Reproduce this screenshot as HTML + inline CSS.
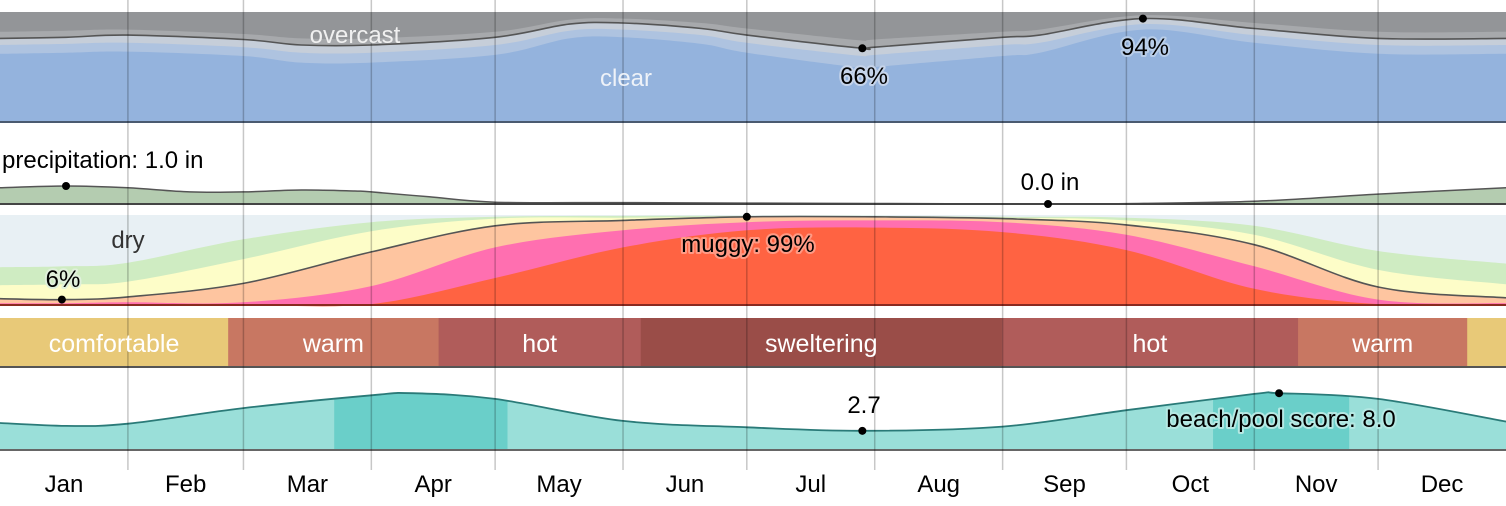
<!DOCTYPE html>
<html><head><meta charset="utf-8"><style>
html,body{margin:0;padding:0;background:#fff;}
svg{display:block;font-family:"Liberation Sans",sans-serif;}
</style></head><body>
<svg id="chart" width="1506" height="506" viewBox="0 0 1506 506" xmlns="http://www.w3.org/2000/svg">
<g id="layers"></g>
<g id="grid"></g>
<g id="labels"></g>
</svg>
<script>
// ---------- data ----------
const months = ["Jan","Feb","Mar","Apr","May","Jun","Jul","Aug","Sep","Oct","Nov","Dec"];
const monthStarts = [0,31,59,90,120,151,181,212,243,273,304,334,365];
// cloud cover (cumulative %, day of year)
const cloudDays = [0,16,31,59,73,90,120,138,151,170,181,209,212,243,252,277,304,334,365];
const cloudClearTop = [62,63,64,60,54,54,61,76,77,71,63,49,50,60,63,84,72,62,62];
const cloudMostlyClearTop = [70,71,72,68,63,63,70,83,84,79,72,60,61,70,72,89,79,70,70];
const cloudLine = [76,77,79,75,70,70,77,89,90,85,79,67,68,77,79,94,85,76,76];
const cloudMostlyCloudyTop = [82,83,84,80,76,76,82,93,94,90,85,74,75,82,84,97,90,82,82];
// precipitation (inches)
const precipDays = [0,16,31,46,59,73,86,90,104,120,151,181,212,243,260,273,304,334,365];
const precipIn = [0.9,1.0,0.9,0.67,0.67,0.78,0.72,0.67,0.4,0.1,0.08,0.05,0.03,0.0,0.01,0.02,0.15,0.55,0.9];
// humidity (cumulative %)
const humDays = [0,16,31,59,90,120,151,181,212,243,273,304,334,365];
const humDry = [42,43,47,73,92,98,99,99,99,98,97,88,60,46];
const humComfortable = [22,23,26,51,82,96,97,98,98,97,94,78,39,23];
const humMuggy = [7,6,9,24,59,88,94,98,98,96,89,67,20,8];
const humOppressive = [2,2,3,3,21,64,83,92,94,92,78,43,6,2];
const humMiserable = [0,0,0,0,1,30,64,83,86,81,61,18,1,0];
// beach score
const beachDays = [0,16,31,59,90,100,120,151,181,209,243,273,304,310,334,365];
const beachScore = [3.8,3.4,3.7,5.9,7.7,8.0,7.2,4.1,3.2,2.7,3.3,5.6,7.9,8.0,7.2,4.0];
const beachBest = [[81,123],[294,327]];
// temperature bands
const tempBands = [["comfortable",0,55.3],["warm",55.3,106.3],["hot",106.3,155.3],["sweltering",155.3,242.8],["hot",242.8,314.6],["warm",314.6,355.6],["comfortable",355.6,365]];
const tempColors = {comfortable:"#e8c978",warm:"#c87762",hot:"#b05c5a",sweltering:"#9a4d48"};

// ---------- scales ----------
const W = 1506;
const x = d => d/365*W;
const yCloud = v => 122 - v*1.1;
const yPrecip = v => 204 - v*18;
const yHum = v => 305 - v*0.9;
const yBeach = v => 450 - v*7.1;

const NS = "http://www.w3.org/2000/svg";
function mk(tag, attrs, parent){ const e=document.createElementNS(NS,tag); for(const k in attrs) e.setAttribute(k,attrs[k]); parent.appendChild(e); return e; }
function smooth(pts){
  let d = "M"+pts[0][0].toFixed(1)+","+pts[0][1].toFixed(1);
  for(let i=0;i<pts.length-1;i++){
    const p0=pts[Math.max(0,i-1)],p1=pts[i],p2=pts[i+1],p3=pts[Math.min(pts.length-1,i+2)];
    const c1x=p1[0]+(p2[0]-p0[0])/6,c1y=p1[1]+(p2[1]-p0[1])/6;
    const c2x=p2[0]-(p3[0]-p1[0])/6,c2y=p2[1]-(p3[1]-p1[1])/6;
    d+=" C"+c1x.toFixed(1)+","+c1y.toFixed(1)+" "+c2x.toFixed(1)+","+c2y.toFixed(1)+" "+p2[0].toFixed(1)+","+p2[1].toFixed(1);
  }
  return d;
}
function pts(days, vals, ys){ return days.map((d,i)=>[x(d), ys(vals[i])]); }
function area(days, vals, ys, base){ return smooth(pts(days,vals,ys))+" L"+W+","+base+" L0,"+base+" Z"; }

const L = document.getElementById("layers");
const G = document.getElementById("grid");
const T = document.getElementById("labels");

// ---------- cloud panel ----------
let e;
e = mk("rect",{x:0,y:12,width:W,height:110,fill:"#939598"},L);


e = mk("path",{d:area(cloudDays,cloudMostlyCloudyTop,yCloud,122),fill:"#a7a9ac"},L);


e = mk("path",{d:area(cloudDays,cloudLine,yCloud,122),fill:"#c6ced9"},L);


e = mk("path",{d:area(cloudDays,cloudMostlyClearTop,yCloud,122),fill:"#aec3e0"},L);


e = mk("path",{d:area(cloudDays,cloudClearTop,yCloud,122),fill:"#94b3dd"},L);


e = mk("path",{d:smooth(pts(cloudDays,cloudLine,yCloud)),fill:"none",stroke:"#555",'stroke-width':1.6},L);


e = mk("rect",{x:0,y:121,width:W,height:2,fill:"#4a5a70"},L);



// ---------- precip panel ----------
e = mk("path",{d:area(precipDays,precipIn,yPrecip,204),fill:"#b4ccb0"},L);


e = mk("path",{d:smooth(pts(precipDays,precipIn,yPrecip)),fill:"none",stroke:"#555",'stroke-width':1.5},L);


e = mk("rect",{x:0,y:203,width:W,height:2,fill:"#444"},L);



// ---------- humidity panel ----------
e = mk("rect",{x:0,y:215,width:W,height:90,fill:"#e8f0f4"},L);


const humLayers = [[humDry,"#cfecc2","humidity-comfortable-area"],[humComfortable,"#fdfdc8","humidity-humid-area"],[humMuggy,"#fec5a0","humidity-muggy-area"],[humOppressive,"#ff6fb0","humidity-oppressive-area"],[humMiserable,"#ff6342","humidity-miserable-area"]];
humLayers.forEach(h=>{
  const p = mk("path",{d:area(humDays,h[0],yHum,305),fill:h[1]},L);
  
  
});
e = mk("path",{d:smooth(pts(humDays,humMuggy,yHum)),fill:"none",stroke:"#555",'stroke-width':1.6},L);


e = mk("rect",{x:0,y:304,width:W,height:2,fill:"#8a2a20"},L);



// ---------- temperature bar ----------
tempBands.forEach(b=>{
  const r = mk("rect",{x:x(b[1]),y:318,width:x(b[2])-x(b[1])+0.5,height:49,fill:tempColors[b[0]]},L);
  
  
  if(b[2]-b[1]>20){
    const t = mk("text",{x:(x(b[1])+x(b[2]))/2,y:352,'text-anchor':'middle','font-size':25,fill:'#fff'},T);
    t.textContent=b[0];
    
    
  }
});
e = mk("rect",{x:0,y:366,width:W,height:2,fill:"#555"},L);



// ---------- beach panel ----------
const clipId="beachClip";
const cp = mk("clipPath",{id:clipId},L);
mk("path",{d:area(beachDays,beachScore,yBeach,450)},cp);
e = mk("path",{d:area(beachDays,beachScore,yBeach,450),fill:"#9adfd9"},L);


beachBest.forEach(r=>{
  const q = mk("rect",{x:x(r[0]),y:370,width:x(r[1])-x(r[0]),height:80,fill:"#6acfc9",'clip-path':'url(#'+clipId+')'},L);
  
  
});
e = mk("path",{d:smooth(pts(beachDays,beachScore,yBeach)),fill:"none",stroke:"#2a7a78",'stroke-width':1.8},L);


e = mk("rect",{x:0,y:449,width:W,height:2,fill:"#666"},L);



// ---------- grid + months ----------
monthStarts.slice(1,12).forEach(d=>{
  const l = mk("line",{x1:x(d),x2:x(d),y1:0,y2:470,stroke:"rgba(0,0,0,0.22)",'stroke-width':1.5},G);
  
  
});
months.forEach((m,i)=>{
  const t = mk("text",{x:(x(monthStarts[i])+x(monthStarts[i+1]))/2,y:492,'text-anchor':'middle','font-size':24,fill:'#000'},T);
  t.textContent=m;
  
  
});

// ---------- annotations ----------
function label(txt,xx,yy,anchor,fill,halo,name){
  const t = mk("text",{x:xx,y:yy,'text-anchor':anchor,'font-size':24,fill:fill},T);
  if(halo){ t.setAttribute('stroke',halo); t.setAttribute('stroke-width',4); t.setAttribute('paint-order','stroke'); t.setAttribute('stroke-linejoin','round'); }
  t.textContent=txt;
  
  
}
function dot(xx,yy,name){
  const c = mk("circle",{cx:xx,cy:yy,r:4,fill:'#000'},T);
  
  
}
label("overcast",355,43,"middle","#f0f0f0",null,"overcast-label");
label("clear",626,86,"middle","#eef2f8",null,"clear-label");
dot(x(209),yCloud(67),"cloud-min-marker");
label("66%",864,84,"middle","#000","#c6d4ea","cloud-min-label");
dot(x(277),yCloud(94),"cloud-max-marker");
label("94%",1145,55,"middle","#000","#b8cde8","cloud-max-label");
dot(x(16),yPrecip(1.0),"precip-max-marker");
label("precipitation: 1.0 in",2,168,"start","#000",null,"precip-max-label");
dot(x(254),yPrecip(0.0),"precip-min-marker");
label("0.0 in",1050,190,"middle","#000",null,"precip-min-label");
label("dry",128,248,"middle","#333",null,"dry-label");
dot(x(15),yHum(6),"humidity-min-marker");
label("6%",63,287,"middle","#000","#e0f0dc","humidity-min-label");
dot(x(181),yHum(98),"humidity-max-marker");
label("muggy: 99%",748,252,"middle","#000","#ff9a85","humidity-max-label");
dot(x(209),yBeach(2.7),"beach-min-marker");
label("2.7",864,413,"middle","#000",null,"beach-min-label");
dot(x(310),yBeach(8.0),"beach-max-marker");
label("beach/pool score: 8.0",1281,427,"middle","#000","#b5e8e3","beach-max-label");
</script>
</body></html>
